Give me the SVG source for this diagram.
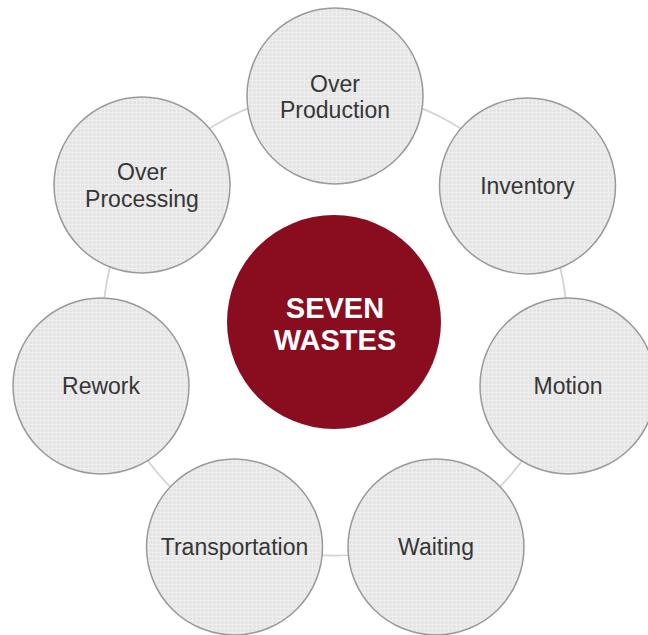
<svg xmlns="http://www.w3.org/2000/svg" width="648" height="635" viewBox="0 0 648 635">
  <defs>
    <pattern id="grid" width="4" height="4" patternUnits="userSpaceOnUse">
      <rect width="4" height="4" fill="#e5e5e5"/>
      <path d="M0 0.5 H4 M0.5 0 V4" stroke="#eeeeee" stroke-width="1"/>
    </pattern>
  </defs>
  <style>
    .node { fill: url(#grid); stroke: #9a9a9a; stroke-width: 1.5; }
    .lbl { font-family: "Liberation Sans", Arial, sans-serif; font-size: 23px; fill: #363636; text-anchor: middle; }
    .conn { fill: none; stroke: #d4d4d4; stroke-width: 1.8; }
    .core { fill: #8a0d1f; }
    .corelbl { font-family: "Liberation Sans", Arial, sans-serif; font-size: 29px; font-weight: bold; fill: #ffffff; text-anchor: middle; }
  </style>
  <rect width="648" height="635" fill="#ffffff"/>
  <g id="connectors">
    <path class="conn" d="M 335 91.5 A 232 232 0 0 1 523.6 188.5"/>
    <path class="conn" d="M 523.6 188.5 A 232 232 0 0 1 559.1 383.5"/>
    <path class="conn" d="M 559.1 383.5 A 232 232 0 0 1 430.5 535"/>
    <path class="conn" d="M 430.5 535 A 232 232 0 0 1 239.5 535"/>
    <path class="conn" d="M 239.5 535 A 232 232 0 0 1 110.9 383.5"/>
    <path class="conn" d="M 110.9 383.5 A 232 232 0 0 1 146.4 188.5"/>
    <path class="conn" d="M 146.4 188.5 A 232 232 0 0 1 335 91.5"/>
  </g>
  <g id="seven-wastes">
    <circle class="core" cx="334" cy="322" r="107"/>
    <text class="corelbl" x="335" y="318">SEVEN</text>
    <text class="corelbl" x="335" y="350">WASTES</text>
  </g>
  <g id="over-production">
    <circle class="node" cx="335" cy="96" r="88"/>
    <text class="lbl" x="335" y="92">Over</text>
    <text class="lbl" x="335" y="118">Production</text>
  </g>
  <g id="inventory">
    <circle class="node" cx="527.5" cy="186" r="88"/>
    <text class="lbl" x="527.5" y="194">Inventory</text>
  </g>
  <g id="motion">
    <circle class="node" cx="568" cy="386" r="88"/>
    <text class="lbl" x="568" y="394">Motion</text>
  </g>
  <g id="waiting">
    <circle class="node" cx="436" cy="547" r="88"/>
    <text class="lbl" x="436" y="555">Waiting</text>
  </g>
  <g id="transportation">
    <circle class="node" cx="234.5" cy="547" r="88"/>
    <text class="lbl" x="234.5" y="555">Transportation</text>
  </g>
  <g id="rework">
    <circle class="node" cx="101" cy="386" r="88"/>
    <text class="lbl" x="101" y="394">Rework</text>
  </g>
  <g id="over-processing">
    <circle class="node" cx="142" cy="185" r="88"/>
    <text class="lbl" x="142" y="180">Over</text>
    <text class="lbl" x="142" y="207">Processing</text>
  </g>
</svg>
